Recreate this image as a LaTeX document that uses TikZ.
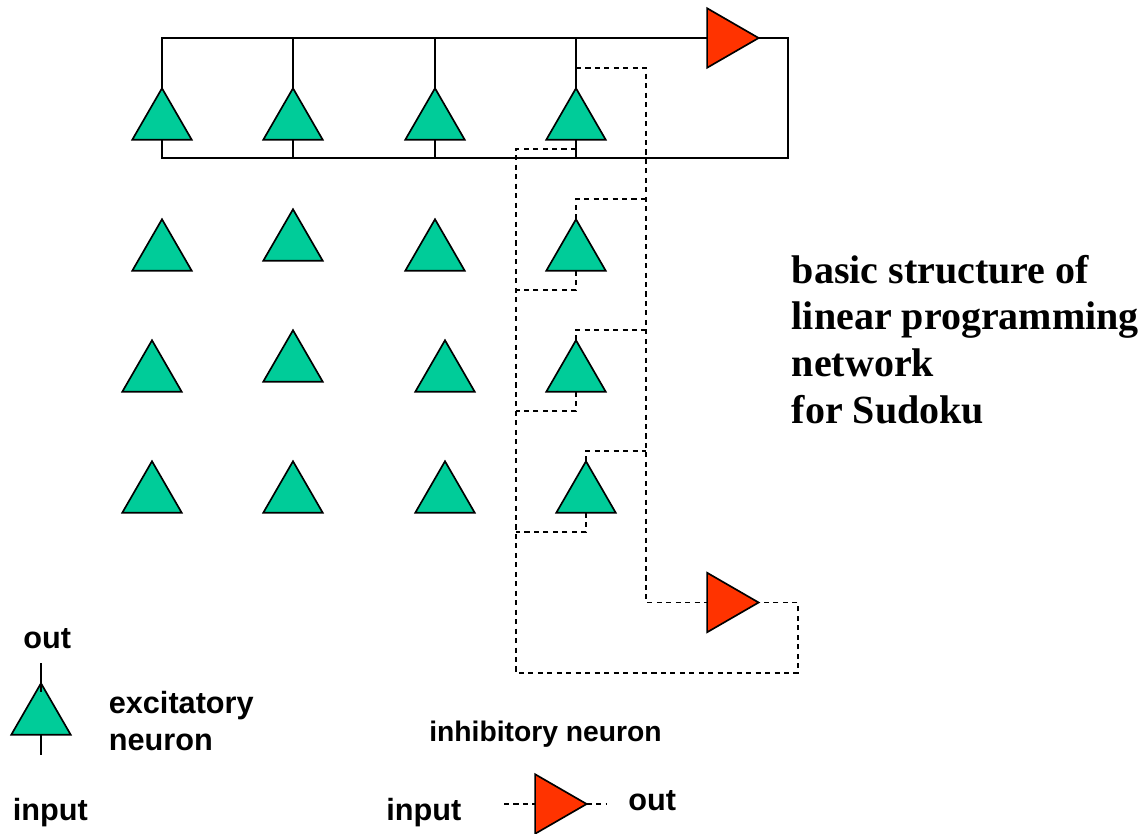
\documentclass[tikz,border=0pt]{standalone}
\usepackage{fontspec}
\setmainfont{Liberation Sans}
\newfontfamily\titlefont{Liberation Serif}
\usetikzlibrary{shapes.geometric}
\definecolor{exgreen}{HTML}{00CC99}
\definecolor{inhred}{HTML}{FF3300}
\tikzset{
	excit/.style={draw,fill=exgreen,regular polygon,regular polygon sides=3,minimum size=51.5pt,inner sep=0pt,outer sep=0pt},
	inhib/.style={excit,fill=inhred,shape border rotate=-90},
	dashline/.style={line width=1.1pt,dash pattern=on 3.8pt off 3.3pt},
	lab/.style={font=\bfseries\fontsize{23}{27.75}\selectfont,inner sep=0pt,anchor=base west,align=left},
	title/.style={font=\titlefont\bfseries\fontsize{30}{34.9}\selectfont,inner sep=0pt,anchor=base west,align=left}
}

\begin{document}
\begin{tikzpicture}[x=0.75pt,y=-0.75pt,line width=1.25pt]
	\useasboundingbox (0,0) rectangle (1143,833);
	\node[excit] (e11) at (162,122.6) {};
	\node[excit] (e12) at (293,122.6) {};
	\node[excit] (e13) at (435,122.6) {};
	\node[excit] (e14) at (576,122.6) {};
	\node[excit] (e21) at (162,253.6) {};
	\node[excit] (e22) at (293,243.6) {};
	\node[excit] (e23) at (435,253.6) {};
	\node[excit] (e24) at (576,253.6) {};
	\node[excit] (e31) at (152,374.6) {};
	\node[excit] (e32) at (293,364.6) {};
	\node[excit] (e33) at (445,374.6) {};
	\node[excit] (e34) at (576,374.6) {};
	\node[excit] (e41) at (152,495.6) {};
	\node[excit] (e42) at (293,495.6) {};
	\node[excit] (e43) at (445,495.6) {};
	\node[excit] (e44) at (586,495.6) {};
	\node[inhib] (i1) at (724.3,38) {};
	\node[inhib] (i2) at (724.3,602.5) {};
	% solid loop
	\coordinate (br) at (788,158);
	\coordinate (bl) at (162,158);
	\draw (e11.corner 1) |- (i1.side 2);
	\draw (e12.corner 1) -- (e12.corner 1 |- i1.side 2);
	\draw (e13.corner 1) -- (e13.corner 1 |- i1.side 2);
	\draw (e14.corner 1) -- (e14.corner 1 |- i1.side 2);
	\draw (i1.corner 1) -| (br) -- (bl) -- (e11.side 2);
	\draw (e12.side 2) -- (e12.side 2 |- bl);
	\draw (e13.side 2) -- (e13.side 2 |- bl);
	\draw (e14.side 2) -- (e14.side 2 |- bl);
	% dashed loop
	\coordinate (t1) at (646,68);
	\coordinate (t2) at (646,199);
	\coordinate (t3) at (646,330);
	\coordinate (t4) at (646,451);
	\coordinate (b1) at (516,149);
	\coordinate (b2) at (516,290);
	\coordinate (b3) at (516,411);
	\coordinate (b4) at (516,532);
	\coordinate (fb) at (798,673);
	\draw[dashline] (e14.corner 1 |- t1) -- (t1) |- (i2.side 2);
	\draw[dashline] (e24.corner 1) |- (t2);
	\draw[dashline] (e34.corner 1) |- (t3);
	\draw[dashline] (e44.corner 1) |- (t4);
	\draw[dashline] (e14.side 2 |- b1) -- (b1) |- (fb) |- (i2.corner 1);
	\draw[dashline] (e24.side 2) |- (b2);
	\draw[dashline] (e34.side 2) |- (b3);
	\draw[dashline] (e44.side 2) |- (b4);
	% legend
	\node[excit] (lge) at (41,717.6) {};
	\coordinate (lgo) at (41,663);
	\coordinate (lgt) at (41,692);
	\coordinate (lgi) at (41,755);
	\draw (lgo) -- (lgt);
	\draw (lge.side 2) -- (lgi);
	\node[inhib] (lgn) at (552.3,804) {};
	\coordinate (lni) at (504,804);
	\coordinate (lno) at (607,804);
	\draw[dashline] (lni) -- (lgn.side 2);
	\draw[dashline] (lgn.corner 1) -- (lno);
	% texts
	\node[title] (ttl) at (791,423) {basic structure of\\linear programming\\network\\for Sudoku};
	\node[lab] (tout) at (22.5,648) {out};
	\node[lab] (texc) at (108,750.5) {excitatory\\neuron};
	\node[lab] (tinp) at (12,820) {input};
	\node[lab,font=\bfseries\fontsize{21.2}{25}\selectfont] (tinh) at (428.5,741) {inhibitory neuron};
	\node[lab] (tinq) at (385.5,820) {input};
	\node[lab] (tonn) at (627.5,810) {out};
\end{tikzpicture}
\end{document}
